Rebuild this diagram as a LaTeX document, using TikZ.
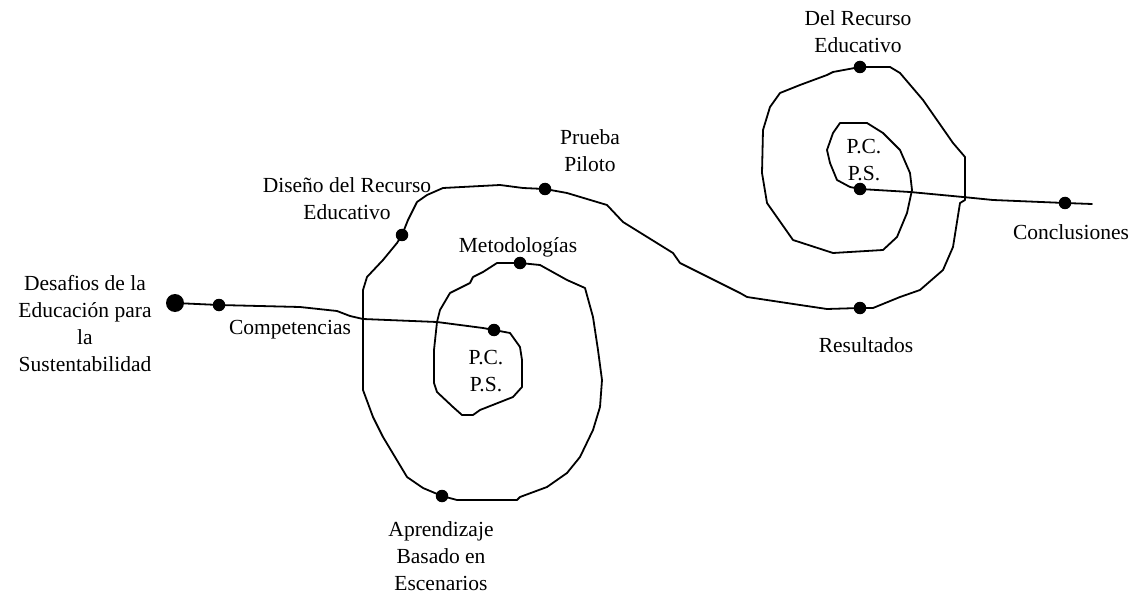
\documentclass[tikz,border=0pt]{standalone}
\usepackage{fontspec}
\setmainfont{Liberation Serif}
\begin{document}
\begin{tikzpicture}[x=1pt,y=-1pt,
  dot/.style={circle,fill=black,inner sep=0pt,minimum size=12.5pt},
  bigdot/.style={circle,fill=black,inner sep=0pt,minimum size=18pt},
  lbl/.style={align=center,inner sep=0pt,font=\fontsize{21.5}{27}\selectfont},
  spiral/.style={line width=1.8pt,line join=round,line cap=round}]
\useasboundingbox (0,0) rectangle (1138,596);
% dots
\node[bigdot] (d0) at (175,303) {};
\node[dot] (d1) at (219,305) {};
\node[dot] (c1) at (494,330) {};
\node[dot] (m1) at (520,263) {};
\node[dot] (a1) at (442,496) {};
\node[dot] (s1) at (402,235) {};
\node[dot] (p1) at (545,189) {};
\node[dot] (r1) at (860,308) {};
\node[dot] (e1) at (860,67) {};
\node[dot] (c2) at (860,189) {};
\node[dot] (k1) at (1065,203) {};
\coordinate (end) at (1092,204);
% labels
\node[lbl] (tdes) at (85,324) {Desafios de la\\Educación para\\la\\Sustentabilidad};
\node[lbl] (tcom) at (290,330) {Competencias};
\node[lbl] (tdis) at (347,199) {Diseño del Recurso\\Educativo};
\node[lbl] (tpru) at (590,151) {Prueba\\Piloto};
\node[lbl] (tmet) at (518,247) {Metodologías};
\node[lbl] (tpc1) at (486,371) {P.C.\\P.S.};
\node[lbl] (tapr) at (441,556) {Aprendizaje\\Basado en\\Escenarios};
\node[lbl] (tdel) at (858,32) {Del Recurso\\Educativo};
\node[lbl] (tpc2) at (864,160) {P.C.\\P.S.};
\node[lbl] (tcon) at (1071,232) {Conclusiones};
\node[lbl] (tres) at (866,345) {Resultados};
% the path
\draw[spiral] (d0.center) -- (d1.center) -- (300,307) -- (337,311) -- (350,316) -- (363,319) -- (437,322) -- (483,328) -- (c1.center);
\draw[spiral] (c1.center) -- (510,333) -- (520,347) -- (522,360) -- (522,387) -- (513,397) -- (480,410) -- (473,415) -- (462,415) -- (453,407) -- (437,392) -- (434,383) -- (434,350) -- (437,322) -- (440,310) -- (450,293) -- (460,288) -- (470,283) -- (473,277) -- (483,272) -- (497,263) -- (m1.center);
\draw[spiral] (m1.center) -- (540,265) -- (567,280) -- (585,288) -- (593,317) -- (598,350) -- (602,380) -- (600,407) -- (593,430) -- (580,457) -- (567,473) -- (547,487) -- (520,497) -- (517,500) -- (457,500) -- (a1.center);
\draw[spiral] (a1.center) -- (423,488) -- (407,477) -- (395,457) -- (383,437) -- (373,417) -- (363,390) -- (363,350) -- (363,290) -- (367,277) -- (383,260) -- (397,243) -- (s1.center);
\draw[spiral] (s1.center) -- (408,220) -- (417,202) -- (427,195) -- (443,188) -- (500,185) -- (523,188) -- (p1.center);
\draw[spiral] (p1.center) -- (567,193) -- (607,205) -- (623,222) -- (673,253) -- (680,263) -- (740,293) -- (747,297) -- (800,305) -- (827,309) -- (r1.center);
\draw[spiral] (r1.center) -- (873,308) -- (900,297) -- (920,290) -- (943,270) -- (953,247) -- (960,203) -- (965,200) -- (965,157) -- (953,143) -- (923,100) -- (900,73) -- (890,67) -- (e1.center);
\draw[spiral] (e1.center) -- (833,72) -- (827,75) -- (800,85) -- (780,93) -- (770,107) -- (763,130) -- (762,173) -- (767,203) -- (793,240) -- (833,253) -- (883,250) -- (897,237) -- (907,213) -- (912,190) -- (910,173) -- (900,150) -- (883,133) -- (867,123) -- (840,123) -- (833,133) -- (827,150) -- (830,163) -- (837,180) -- (850,187) -- (c2.center);
\draw[spiral] (c2.center) -- (910,192) -- (963,197) -- (993,200) -- (k1.center) -- (end);
\end{tikzpicture}
\end{document}
